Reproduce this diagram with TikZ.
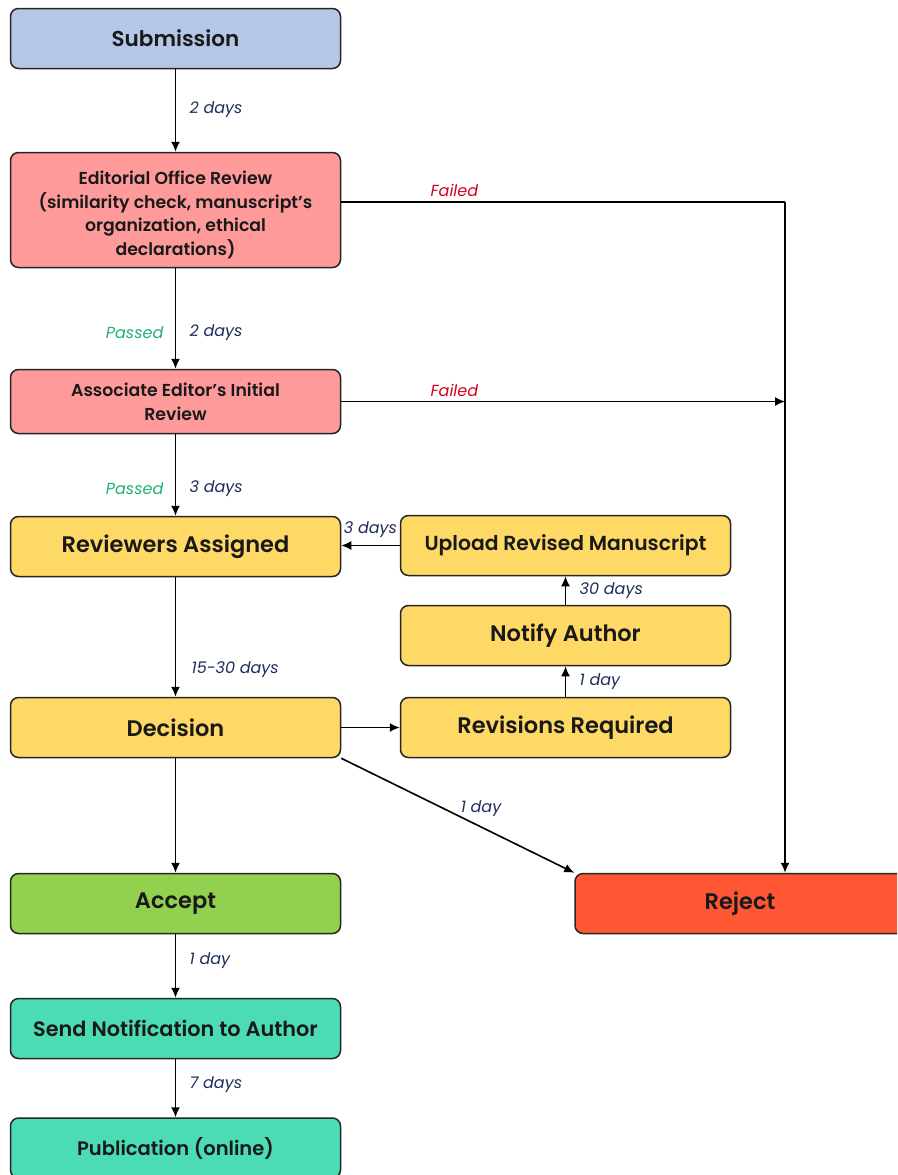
\documentclass[tikz,border=0pt]{standalone}
\usepackage{fontspec}
\setmainfont{Poppins}[BoldFont={Poppins SemiBold}]
\usetikzlibrary{arrows.meta,positioning}

\definecolor{subblue}{HTML}{B4C7E7}
\definecolor{revpink}{HTML}{FF9A9A}
\definecolor{revyellow}{HTML}{FFD966}
\definecolor{accgreen}{HTML}{92D050}
\definecolor{rejred}{HTML}{FF5733}
\definecolor{pubteal}{HTML}{4BDBB5}
\definecolor{daynavy}{HTML}{1F2D5A}
\definecolor{passgreen}{HTML}{1FB371}
\definecolor{failred}{HTML}{D0021B}

\begin{document}
\begin{tikzpicture}[
        x=1pt, y=-1pt,
        stage/.style={
            draw=black!85, line width=1.5pt,
            rounded corners=8pt, align=center,
            minimum width=330pt, minimum height=60pt,
            inner sep=2pt, text=black!90,
            font=\fontsize{22.5}{25}\selectfont\bfseries
        },
        small/.style={font=\fontsize{17.3}{23.7}\selectfont\bfseries},
        days/.style={font=\fontsize{16}{18}\selectfont\itshape, text=daynavy},
        passed/.style={font=\fontsize{16}{18}\selectfont\itshape, text=passgreen},
        failed/.style={font=\fontsize{16}{18}\selectfont\itshape, text=failred},
        ->, >={Latex[length=10pt,width=9pt]}, line width=1.6pt
      ]

  \useasboundingbox (0,0) rectangle (897,1175);
  \clip (0,0) rectangle (897,1175);

  \node[stage, fill=subblue, font=\fontsize{21.5}{25}\selectfont\bfseries] (sub) at (175.5,38.5) {Submission};
  \node[stage, small, fill=revpink, minimum height=115pt] (eor) at (175.5,210)
      {\strut\\[-17pt]Editorial Office Review\\(similarity check, manuscript’s\\organization, ethical\\declarations)};
  \node[stage, small, fill=revpink, minimum height=64pt] (aer) at (175.5,401.5)
      {Associate Editor’s Initial\\Review};
  \node[stage, fill=revyellow] (ra) at (175.5,546.5) {Reviewers Assigned};
  \node[stage, fill=revyellow, font=\fontsize{20.3}{24}\selectfont\bfseries] (urm) at (565.5,545.5) {Upload Revised Manuscript};
  \node[stage, fill=revyellow] (na) at (565.5,635.5) {Notify Author};
  \node[stage, fill=revyellow] (rr) at (565.5,727.5) {Revisions Required};
  \node[stage, fill=revyellow] (dec) at (175.5,727.5) {Decision};
  \node[stage, fill=accgreen] (acc) at (175.5,903.5) {Accept};
  \node[stage, fill=rejred] (rej) at (740,903.5) {Reject};
  \node[stage, fill=pubteal, font=\fontsize{20.8}{24}\selectfont\bfseries] (snta) at (175.5,1028.5) {Send Notification to Author};
  \node[stage, fill=pubteal, font=\fontsize{19.5}{24}\selectfont\bfseries] (pub) at (175.5,1148) {Publication (online)};

  \coordinate (turn) at (785,202);

  \path (sub) edge node[days, right=10pt, pos=0.49] {2 days} (eor);
  \path (eor) edge node[days, right=10pt, pos=0.64] {2 days}
                   node[passed, left=8pt, pos=0.64] {Passed} (aer);
  \path (aer) edge node[days, right=10pt, pos=0.67] {3 days}
                   node[passed, left=8pt, pos=0.67] {Passed} (ra);
  \path (ra) edge node[days, right=12pt, pos=0.77] {15-30 days} (dec);
  \path (dec) edge (acc);
  \path (acc) edge node[days, right=10pt, pos=0.42] {1 day} (snta);
  \path (snta) edge node[days, right=10pt, pos=0.43] {7 days} (pub);

  \draw[-] ([yshift=8pt]eor.east) -- node[failed, above=1pt, pos=0.255] {Failed} (turn);
  \draw (turn) -- (rej.north -| turn);
  \draw (aer.east) -- node[failed, above=1pt, pos=0.255] {Failed} (aer.east -| turn);

  \draw (urm.west) -- node[days, above=4pt] {3 days} (ra.east |- urm.west);
  \path (rr) edge node[days, right=10pt] {1 day} (na);
  \path (na) edge node[days, right=10pt] {30 days} (urm);
  \path (dec) edge (rr);
  \draw (dec.south east) -- node[days, above=6pt, pos=0.6] {1 day} (rej.north west);
\end{tikzpicture}
\end{document}
